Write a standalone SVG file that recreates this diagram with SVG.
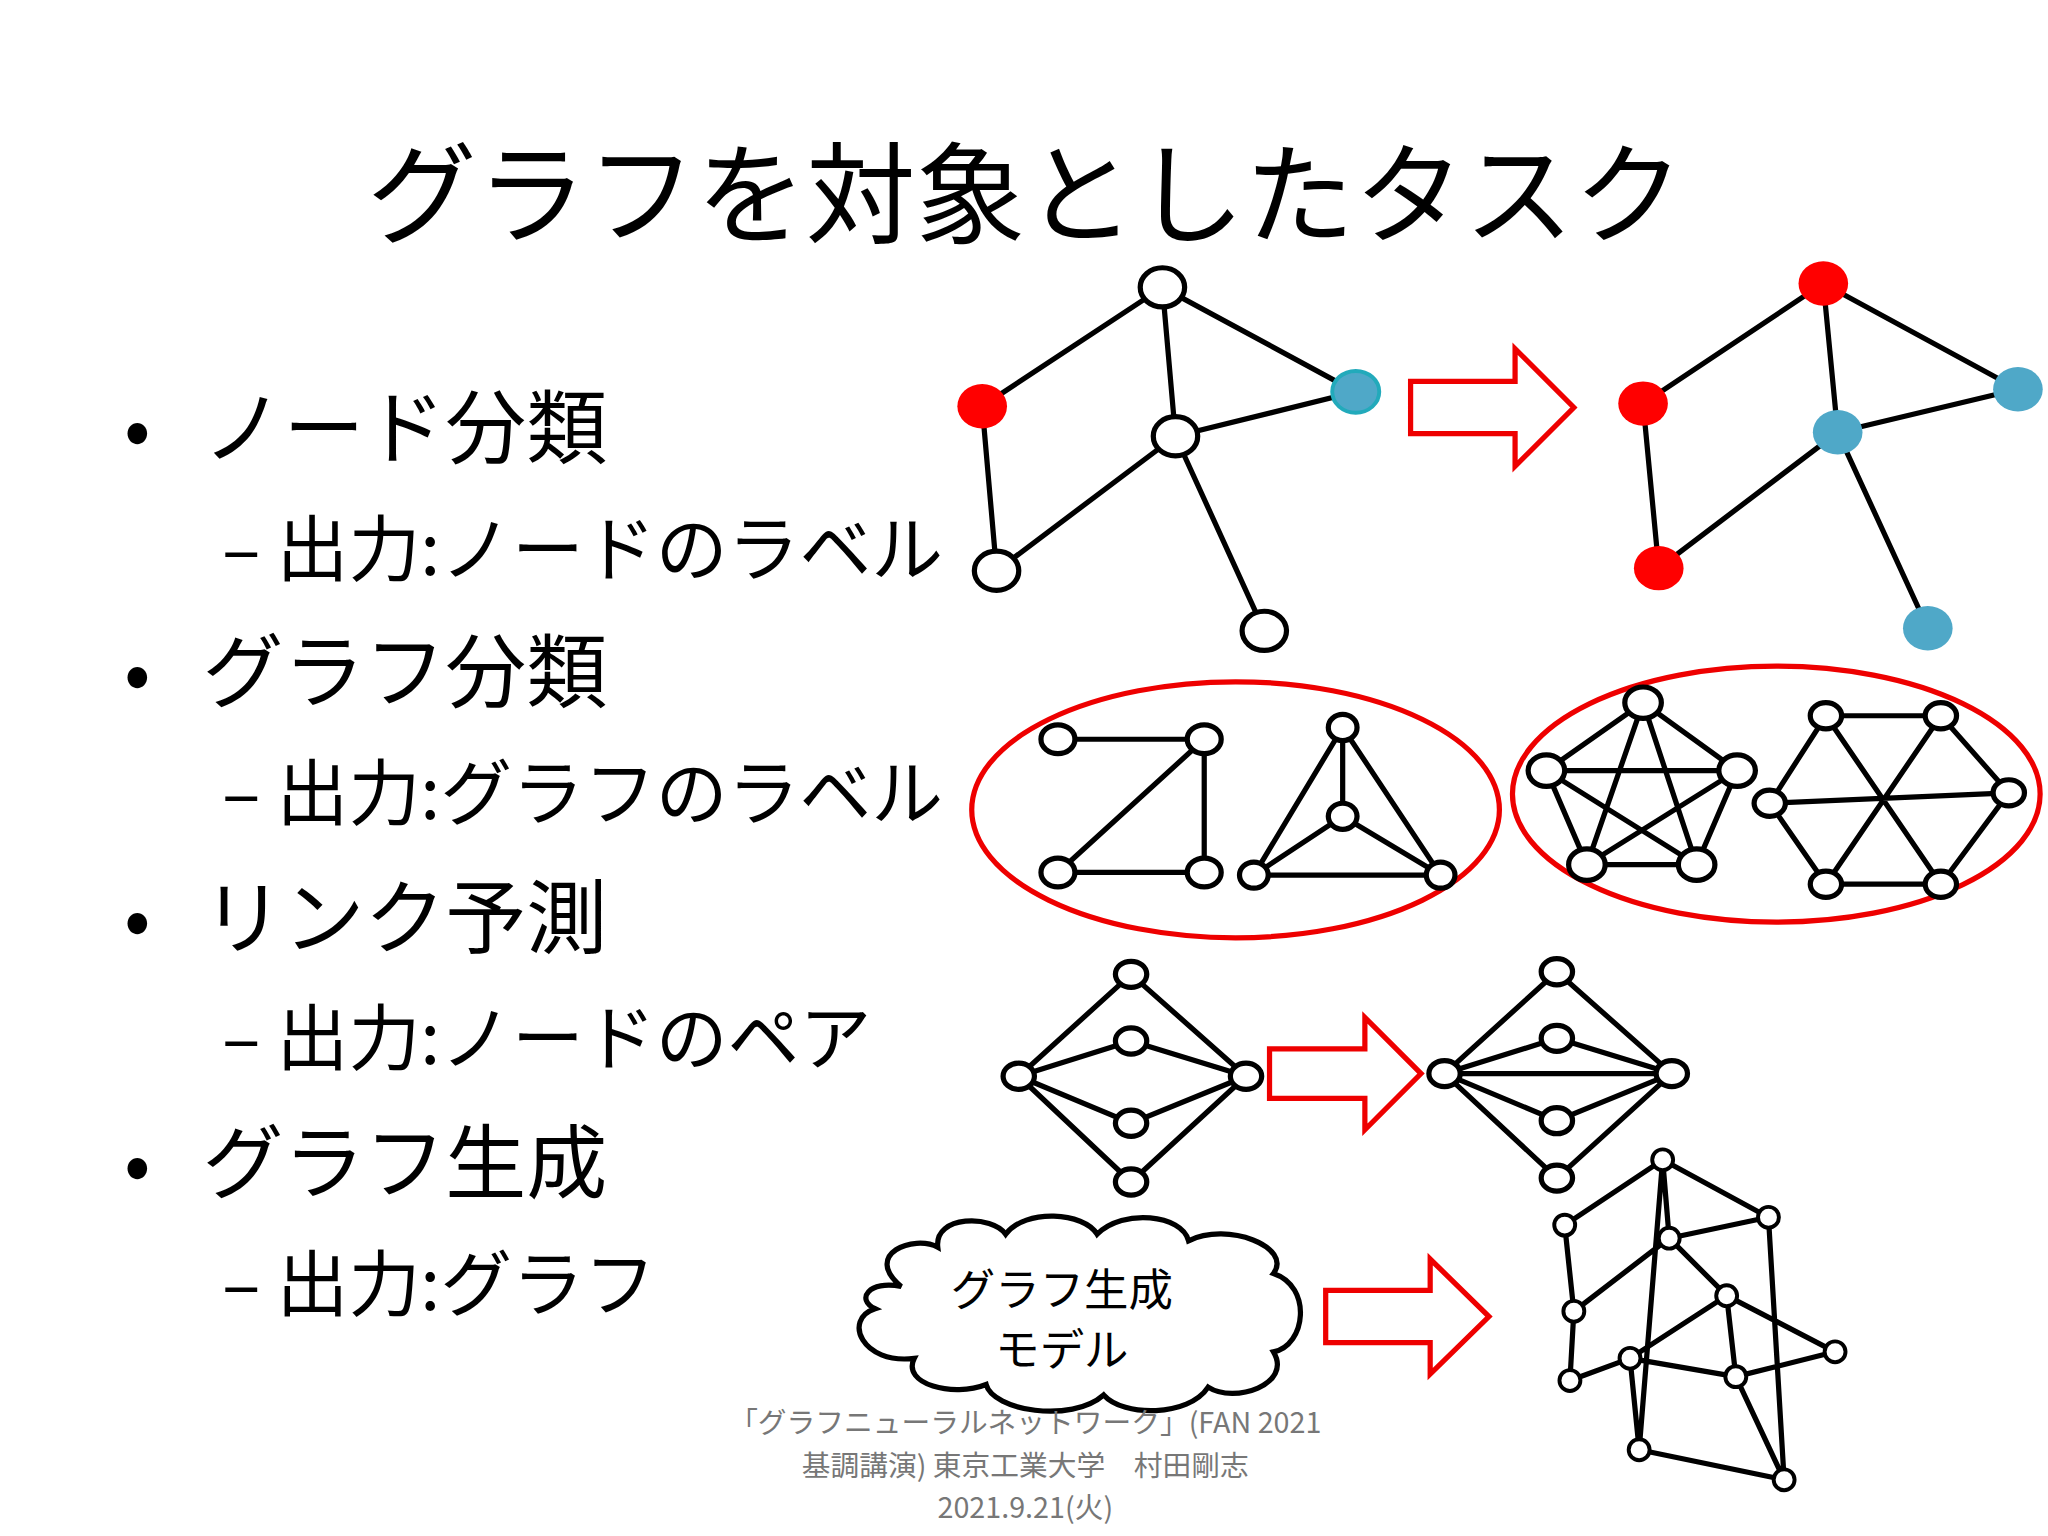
<svg xmlns="http://www.w3.org/2000/svg" width="2048" height="1536" viewBox="0 0 2048 1536">
<style>
.t{font-family:"Noto Sans CJK JP","Liberation Sans",sans-serif;fill:#000}
.e{stroke:#000;stroke-width:4;fill:none}
.n{fill:#fff;stroke:#000;stroke-width:4}
.r{fill:#f00}
.b{fill:#4fa8c8}
.ar{fill:#fff;stroke:#e00;stroke-width:4}
.el{fill:none;stroke:#e00;stroke-width:4}
</style>
<rect width="2048" height="1536" fill="#fff"/>
<g transform="scale(1.3061)">
<g id="title"><text class="t" x="785" y="180" font-size="84" text-anchor="middle">グラフを対象としたタスク</text></g>
<g id="bullets" class="t">
<text x="95" y="350" font-size="60">•</text><text x="155" y="350" font-size="62">ノード分類</text>
<text x="170" y="440" font-size="55">– 出力:ノードのラベル</text>
<text x="95" y="537" font-size="60">•</text><text x="155" y="537" font-size="62">グラフ分類</text>
<text x="170" y="627" font-size="55">– 出力:グラフのラベル</text>
<text x="95" y="725" font-size="60">•</text><text x="155" y="725" font-size="62">リンク予測</text>
<text x="170" y="815" font-size="55">– 出力:ノードのペア</text>
<text x="95" y="913" font-size="60">•</text><text x="155" y="913" font-size="62">グラフ生成</text>
<text x="170" y="1003" font-size="55">– 出力:グラフ</text>
</g>
<g id="connectors" class="e">
<path d="M890,220L752,311M890,220L900,334M890,220L1038,300M900,334L1038,300M752,311L763,437M763,437L900,334M900,334L968,483"/>
<path d="M1396,217L1258,309M1396,217L1407,331M1396,217L1545,298M1407,331L1545,298M1258,309L1270,435M1270,435L1407,331M1407,331L1476,481"/>
<path d="M810,566L922,566M922,566L810,668M922,566L922,668M810,668L922,668"/>
<path d="M1028,557L960,670M1028,557L1103,670M960,670L1103,670M1028,557L1028,625M1028,625L960,670M1028,625L1103,670"/>
<path d="M1258,538L1184,590M1258,538L1330,590M1258,538L1215,662M1258,538L1299,662M1184,590L1330,590M1184,590L1215,662M1184,590L1299,662M1330,590L1215,662M1330,590L1299,662M1215,662L1299,662"/>
<path d="M1398,548L1486,548L1538,607L1486,677L1398,677L1355,615ZM1355,615L1538,607M1398,548L1486,677M1486,548L1398,677"/>
<path d="M866,746L780,824M866,746L954,824M866,905L780,824M866,905L954,824M780,824L866,797L954,824M780,824L866,860L954,824"/>
<path d="M1192,744L1106,822M1192,744L1280,822M1192,902L1106,822M1192,902L1280,822M1106,822L1192,795L1280,822M1106,822L1192,858L1280,822M1106,822L1280,822"/>
<path d="M1273,888L1198,938M1273,888L1354,932M1273,888L1278,948M1273,888L1255,1110M1198,938L1205,1004L1202,1057M1278,948L1354,932M1278,948L1205,1004M1278,948L1322,992M1354,932L1366,1133M1322,992L1248,1040M1322,992L1405,1035M1322,992L1329,1054M1248,1040L1202,1057M1248,1040L1255,1110M1248,1040L1329,1054M1329,1054L1405,1035M1329,1054L1366,1133M1255,1110L1366,1133"/>
</g>
<g id="arrows">
<path class="ar" d="M1080,292H1160V267L1205,312L1160,357V332H1080Z"/>
<path class="ar" d="M972,803H1045V779L1088,822L1045,865V841H972Z"/>
<path class="ar" d="M1015,988H1095V964L1140,1008L1095,1052V1028H1015Z"/>
<ellipse class="el" cx="946" cy="620" rx="202" ry="98"/>
<ellipse class="el" cx="1360" cy="608" rx="202" ry="98"/>
</g>
<g id="nodes">
<ellipse class="n" cx="890" cy="220" rx="17" ry="15"/><ellipse class="r" cx="752" cy="311" rx="19" ry="17"/><ellipse class="b" cx="1038" cy="300" rx="18" ry="16" stroke="#2ab" stroke-width="3"/><ellipse class="n" cx="900" cy="334" rx="17" ry="15"/><ellipse class="n" cx="763" cy="437" rx="17" ry="15"/><ellipse class="n" cx="968" cy="483" rx="17" ry="15"/>
<ellipse class="r" cx="1396" cy="217" rx="19" ry="17"/><ellipse class="r" cx="1258" cy="309" rx="19" ry="17"/><ellipse class="b" cx="1545" cy="298" rx="19" ry="17"/><ellipse class="b" cx="1407" cy="331" rx="19" ry="17"/><ellipse class="r" cx="1270" cy="435" rx="19" ry="17"/><ellipse class="b" cx="1476" cy="481" rx="19" ry="17"/>
<g class="n">
<ellipse cx="810" cy="566" rx="13" ry="11"/><ellipse cx="922" cy="566" rx="13" ry="11"/><ellipse cx="810" cy="668" rx="13" ry="11"/><ellipse cx="922" cy="668" rx="13" ry="11"/>
<ellipse cx="1028" cy="557" rx="11" ry="10"/><ellipse cx="1028" cy="625" rx="11" ry="10"/><ellipse cx="960" cy="670" rx="11" ry="10"/><ellipse cx="1103" cy="670" rx="11" ry="10"/>
<ellipse cx="1258" cy="538" rx="14" ry="12"/><ellipse cx="1184" cy="590" rx="14" ry="12"/><ellipse cx="1330" cy="590" rx="14" ry="12"/><ellipse cx="1215" cy="662" rx="14" ry="12"/><ellipse cx="1299" cy="662" rx="14" ry="12"/>
<ellipse cx="1398" cy="548" rx="12" ry="10"/><ellipse cx="1486" cy="548" rx="12" ry="10"/><ellipse cx="1355" cy="615" rx="12" ry="10"/><ellipse cx="1538" cy="607" rx="12" ry="10"/><ellipse cx="1398" cy="677" rx="12" ry="10"/><ellipse cx="1486" cy="677" rx="12" ry="10"/>
<ellipse cx="866" cy="746" rx="12" ry="10"/><ellipse cx="780" cy="824" rx="12" ry="10"/><ellipse cx="866" cy="797" rx="12" ry="10"/><ellipse cx="866" cy="860" rx="12" ry="10"/><ellipse cx="954" cy="824" rx="12" ry="10"/><ellipse cx="866" cy="905" rx="12" ry="10"/>
<ellipse cx="1192" cy="744" rx="12" ry="10"/><ellipse cx="1106" cy="822" rx="12" ry="10"/><ellipse cx="1192" cy="795" rx="12" ry="10"/><ellipse cx="1192" cy="858" rx="12" ry="10"/><ellipse cx="1280" cy="822" rx="12" ry="10"/><ellipse cx="1192" cy="902" rx="12" ry="10"/>
</g>
<g class="n" style="stroke-width:3">
<circle cx="1273" cy="888" r="8"/><circle cx="1198" cy="938" r="8"/><circle cx="1354" cy="932" r="8"/><circle cx="1278" cy="948" r="8"/><circle cx="1322" cy="992" r="8"/><circle cx="1205" cy="1004" r="8"/><circle cx="1248" cy="1040" r="8"/><circle cx="1329" cy="1054" r="8"/><circle cx="1405" cy="1035" r="8"/><circle cx="1202" cy="1057" r="8"/><circle cx="1255" cy="1110" r="8"/><circle cx="1366" cy="1133" r="8"/>
</g>
</g>
<g id="cloud">
<path d="M690,985 C660,960 700,945 718,955 C715,930 760,930 770,945 C785,925 830,928 840,945 C860,925 905,930 910,950 C940,935 990,955 975,975 C1005,985 1000,1030 975,1035 C990,1060 945,1075 925,1062 C910,1085 860,1085 845,1068 C820,1090 760,1080 755,1060 C730,1070 690,1060 700,1040 C660,1045 645,1010 670,1002 C655,995 665,980 690,985Z" fill="#fff" stroke="#000" stroke-width="4"/>
<text class="t" x="813" y="1000" font-size="34" text-anchor="middle">グラフ生成</text>
<text class="t" x="813" y="1046" font-size="34" text-anchor="middle">モデル</text>
</g>
<g id="footer" class="t" font-size="22" text-anchor="middle">
<text x="785" y="1097" style="fill:#777">「グラフニューラルネットワーク」(FAN 2021</text>
<text x="785" y="1130" style="fill:#777">基調講演) 東京工業大学　村田剛志</text>
<text x="785" y="1162" style="fill:#777">2021.9.21(火)</text>
</g>
</g>
</svg>
